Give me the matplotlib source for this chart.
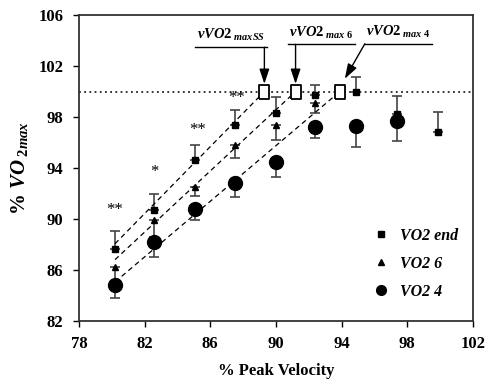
import matplotlib
matplotlib.use("Agg")
import matplotlib.pyplot as plt
import numpy as np

plt.rcParams['font.family'] = 'Liberation Serif'
plt.rcParams['font.weight'] = 'bold'
plt.rcParams['mathtext.fontset'] = 'custom'
plt.rcParams['mathtext.it'] = 'Liberation Serif:italic:bold'
plt.rcParams['mathtext.rm'] = 'Liberation Serif:bold'
plt.rcParams['mathtext.bf'] = 'Liberation Serif:bold'

# % peak velocity of each stage
vel = [80.2, 82.6, 85.1, 87.5, 90.0, 92.4, 94.9, 97.4, 99.9]

# VO2 end (squares), upper error bars
vo2_end = [87.65, 90.7, 94.66, 97.4, 98.3, 99.7, 99.96, 98.27, 96.82]
vo2_end_err = [1.4, 1.27, 1.14, 1.15, 1.3, 0.8, 1.18, 1.41, 1.55]

# VO2 6 (triangles), lower error bars
vo2_6 = [86.24, 89.95, 92.5, 95.78, 97.4, 99.13]
vo2_6_err = [1.4, 1.4, 0.7, 1.0, 1.17, 0.78]

# VO2 4 (circles), lower error bars
vo2_4 = [84.82, 88.15, 90.76, 92.85, 94.47, 97.22, 97.27, 97.69]
vo2_4_err = [1.06, 1.13, 0.81, 1.12, 1.17, 0.87, 1.62, 1.57]

# regression lines: start value at 80.2 and crossing of 100 %
fit_start_x = 80.2
fit_start_y = [88.05, 86.8, 85.05]
vvo2max = [89.3, 91.2, 93.9]
vvo2_labels = [r'$vVO2_{\ maxSS}$', r'$vVO2_{\ max\ 6}$', r'$vVO2_{\ max\ 4}$']

# significance marks
stars_x = [80.2, 82.6, 85.2, 87.6]
stars_y = [90.67, 93.7, 97.0, 99.47]
stars = ['**', '*', '**', '**']

fig = plt.figure(figsize=(4.9, 3.87), dpi=100)
ax = fig.add_axes([0.161, 0.171, 0.804, 0.79])

ecol = '#444444'
n6 = len(vo2_6)
n4 = len(vo2_4)
ax.errorbar(vel, vo2_end, yerr=[np.zeros(len(vel)), vo2_end_err], fmt='none',
            ecolor=ecol, elinewidth=1.2, capsize=3.5, capthick=1.2)
ax.errorbar(vel[:n6], vo2_6, yerr=[vo2_6_err, np.zeros(n6)], fmt='none',
            ecolor=ecol, elinewidth=1.2, capsize=3.5, capthick=1.2)
ax.errorbar(vel[:n4], vo2_4, yerr=[vo2_4_err, np.zeros(n4)], fmt='none',
            ecolor=ecol, elinewidth=1.2, capsize=3.5, capthick=1.2)

# 100 % line
ax.axhline(100, color='black', linestyle=(0, (1.2, 2.2)), linewidth=1.1, zorder=1)

# dashed regression lines
for y0, xm in zip(fit_start_y, vvo2max):
    ax.plot([fit_start_x, xm], [y0, 100], color='black', linestyle=(0, (4, 3)),
            linewidth=0.9, zorder=2)

ax.plot(vel, vo2_end, linestyle='none', marker='s', color='black', markersize=5,
        label='VO2 end', zorder=4)
ax.plot(vel[:n6], vo2_6, linestyle='none', marker='^', color='black', markersize=5,
        label='VO2 6', zorder=4)
ax.plot(vel[:n4], vo2_4, linestyle='none', marker='o', color='black', markersize=10,
        label='VO2 4', zorder=4)

rect = [(-0.35, -0.5), (0.35, -0.5), (0.35, 0.5), (-0.35, 0.5), (-0.35, -0.5)]
ax.plot(vvo2max, [100] * 3, linestyle='none', marker=rect, markersize=10,
        markerfacecolor='white', markeredgecolor='black', markeredgewidth=1.3, zorder=5)

for sx, sy, s in zip(stars_x, stars_y, stars):
    ax.text(sx, sy, s, ha='center', va='center', fontsize=12, fontweight='normal')

# vVO2max labels with underline and arrow
label_spans = [(85.1, 89.45), (90.73, 94.8), (95.42, 99.5)]
label_y = [103.48, 103.7, 103.75]
arrow_from = [89.3, 91.2, 95.42]
arrow_to = [(89.3, 100.6), (91.2, 100.6), (94.2, 101.0)]
for (a, b), ly, lab, ax0, tip in zip(label_spans, label_y, vvo2_labels, arrow_from, arrow_to):
    ax.plot([a, b], [ly, ly], color='black', linewidth=1.0)
    ax.text((a + b) / 2, ly + 0.3, lab, ha='center', va='bottom', fontsize=10.5)
    ax.annotate('', xy=tip, xytext=(ax0, ly),
                arrowprops=dict(arrowstyle='-|>,head_length=0.9,head_width=0.3',
                                color='black', lw=1.0, shrinkA=0, shrinkB=0))

ax.set_xlim(78, 102)
ax.set_ylim(82, 106)
ax.set_xticks(np.arange(78, 103, 4))
ax.set_yticks(np.arange(82, 107, 4))
ax.tick_params(direction='out', length=4, width=1, labelsize=12, pad=7)
for lab in ax.get_xticklabels() + ax.get_yticklabels():
    lab.set_fontweight('bold')
for sp in ax.spines.values():
    sp.set_linewidth(1.3)
    sp.set_color('#333333')

ax.set_xlabel('% Peak Velocity', fontsize=12, fontweight='bold', labelpad=8)
ax.set_ylabel(r'% $VO_{\ 2max}$', fontsize=15, fontweight='bold')
ax.yaxis.set_label_coords(-0.125, 0.5)

leg = ax.legend(loc='lower right', bbox_to_anchor=(1.0, 0.022), frameon=False,
                handletextpad=0.6, labelspacing=0.75, handlelength=1.2,
                prop={'family': 'Liberation Serif', 'style': 'italic',
                      'weight': 'bold', 'size': 11.5})
leg.legend_handles[2].set_markersize(7)

fig.savefig('out.png', dpi=100)
